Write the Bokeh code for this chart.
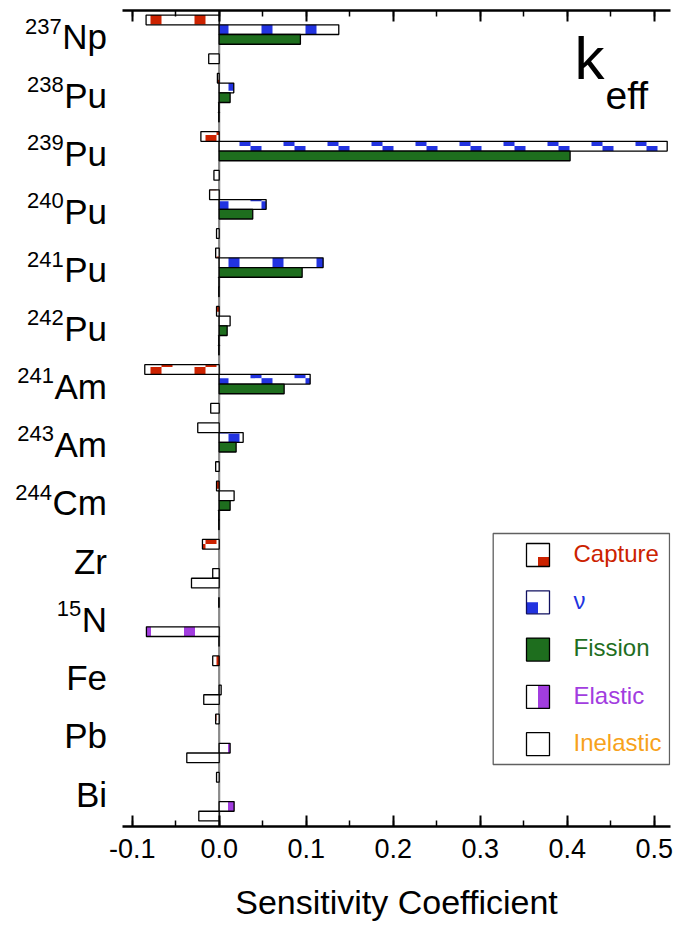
import math
from bokeh.plotting import figure
from bokeh.layouts import row
from bokeh.models import (Range1d, LinearAxis, SingleIntervalTicker,
                          NumeralTickFormatter, CustomJSTickFormatter, Span, Label)
from bokeh.core.properties import value
from bokeh.embed import file_html
from bokeh.resources import INLINE

# ---------------- data ----------------
nuclides = ["237Np", "238Pu", "239Pu", "240Pu", "241Pu", "242Pu", "241Am",
            "243Am", "244Cm", "Zr", "15N", "Fe", "Pb", "Bi"]
mass_numbers = ["237", "238", "239", "240", "241", "242", "241",
                "243", "244", "", "15", "", "", ""]
elements = ["Np", "Pu", "Pu", "Pu", "Pu", "Pu", "Am",
            "Am", "Cm", "Zr", "N", "Fe", "Pb", "Bi"]
reactions = ["Capture", "\u03bd", "Fission", "Elastic", "Inelastic"]

capture = [-0.084, -0.002, -0.021, -0.011, -0.004, -0.003, -0.0855,
           -0.0246, -0.003, -0.0192, -0.0005, -0.0074, -0.004, -0.003]
nu = [0.1375, 0.0168, 0.515, 0.054, 0.1195, 0.0126, 0.1046,
      0.0276, 0.0172, 0.0, 0.0, 0.0, 0.0, 0.0]
fission = [0.0934, 0.0126, 0.4034, 0.0386, 0.0954, 0.0092, 0.0747,
           0.0195, 0.0126, 0.0, 0.0, 0.0, 0.0, 0.0]
elastic = [0.0, -0.0005, 0.0, 0.0, -0.0003, -0.0005, 0.0,
           0.0, -0.0005, -0.0074, -0.0836, 0.0023, 0.0126, 0.0172]
inelastic = [-0.012, -0.0005, -0.006, -0.003, -0.0005, -0.0005, -0.0097,
             -0.004, -0.0005, -0.0318, -0.0003, -0.0177, -0.0372, -0.0234]

x_ticks_interval = 0.1

# ---------------- layout / style ----------------
W, H = 677, 927
LW = 107                                  # width of the label panel (px)
FL, FR, FT, FB = 122, 670, 10, 826        # frame edges in page px
X_START, X_END = -0.1111, 0.5188
Y_TOP, Y_BOT = -0.474, 83.57
XPX = (FR - FL) / (X_END - X_START)
YPX = (FB - FT) / (Y_BOT - Y_TOP)
SLOTS = 6
BASE_FIX = 0.41

FONT = "Liberation Sans"
RED = "#cc2200"
BLUE = "#2233e0"
GREEN = "#1e6e1e"
PURPLE = "#a23ddf"
ORANGE = "#f7a21b"


def px_x(x):
    return FL + (x - X_START) * XPX


def px_y(s):
    return FT + (s - Y_TOP) * YPX


def dx(px):
    return X_START + (px - FL) / XPX


def dy(py):
    return Y_TOP + (py - FT) / YPX


y_range = Range1d(Y_BOT, Y_TOP)

p = figure(width=W - LW, height=H, x_range=Range1d(X_START, X_END),
           y_range=y_range, output_backend="svg",
           toolbar_location=None, y_axis_location=None,
           min_border_left=FL - LW, min_border_right=W - FR,
           min_border_top=FT, min_border_bottom=H - FB)
p.outline_line_color = None
p.xgrid.visible = False
p.ygrid.visible = False

xa = p.xaxis[0]
xa.ticker = SingleIntervalTicker(interval=x_ticks_interval, num_minor_ticks=2)
xa.formatter = NumeralTickFormatter(format="0.0")
xa.axis_label = "Sensitivity Coefficient"
xa.axis_label_text_font = FONT
xa.axis_label_text_font_style = "normal"
xa.axis_label_text_font_size = "34px"
xa.axis_label_text_color = "black"
xa.axis_label_standoff = 22
xa.major_label_text_font = FONT
xa.major_label_text_font_size = "27px"
xa.major_label_text_color = "black"
xa.major_label_standoff = 12
xa.axis_line_width = 2.5
xa.axis_line_color = "black"
xa.major_tick_in = 11
xa.major_tick_out = 0
xa.minor_tick_in = 6
xa.minor_tick_out = 0
xa.major_tick_line_width = 2
xa.minor_tick_line_width = 1.5
xa.major_tick_line_color = "black"
xa.minor_tick_line_color = "black"

top_ax = LinearAxis(ticker=SingleIntervalTicker(interval=x_ticks_interval, num_minor_ticks=2),
                    formatter=CustomJSTickFormatter(code="return ''"),
                    major_label_text_font_size="1px", major_label_standoff=0,
                    axis_line_width=2.5, axis_line_color="black",
                    major_tick_in=11, major_tick_out=0, minor_tick_in=6, minor_tick_out=0,
                    major_tick_line_width=2, minor_tick_line_width=1.5)
p.add_layout(top_ax, "above")

p.add_layout(Span(location=0, dimension="height", line_color="#8a8a8a", line_width=2.2,
                  level="underlay"))

RH, RY0, PER, SQ = 11.05, 13.0, 44.0, 11.0


def pattern_quads(values, j, kind):
    L, R, T, B = [], [], [], []
    for i, v in enumerate(values):
        if v == 0:
            continue
        s = SLOTS * i + j
        bx0, bx1 = sorted((px_x(0.0), px_x(v)))
        by0, by1 = px_y(s), px_y(s + 1)
        bands = []
        if kind == "stripe":
            bands = [(by0, by1, 7.5)]
        else:
            n0 = math.floor((by0 - RY0) / RH)
            n1 = math.floor((by1 - RY0) / RH)
            for n in range(n0, n1 + 1):
                y0 = max(by0, RY0 + RH * n)
                y1 = min(by1, RY0 + RH * (n + 1))
                if y1 - y0 < 0.3:
                    continue
                c = (30 + 11 * n) % 44 if kind == "down" else (18 - 11 * n) % 44
                bands.append((y0, y1, c))
        for (y0, y1, c) in bands:
            k0 = math.floor((bx0 - c - SQ) / PER)
            k1 = math.ceil((bx1 - c) / PER)
            for k in range(k0, k1 + 1):
                sx0 = max(bx0, c + PER * k)
                sx1 = min(bx1, c + PER * k + SQ)
                if sx1 - sx0 < 0.3:
                    continue
                L.append(dx(sx0)); R.append(dx(sx1)); T.append(dy(y0)); B.append(dy(y1))
    return dict(left=L, right=R, top=T, bottom=B)


def bar_data(values, j):
    L, R, T, B = [], [], [], []
    for i, v in enumerate(values):
        if v == 0:
            continue
        s = SLOTS * i + j
        L.append(min(0.0, v)); R.append(max(0.0, v)); T.append(s); B.append(s + 1)
    return dict(left=L, right=R, top=T, bottom=B)


series = [(capture, 0, RED, "up"), (nu, 1, BLUE, "down"), (fission, 2, GREEN, None),
          (elastic, 3, PURPLE, "stripe"), (inelastic, 4, None, None)]

for vals, j, col, kind in series:
    bd = bar_data(vals, j)
    if kind is None and col is not None:
        p.quad(source=bd, left="left", right="right", top="top", bottom="bottom",
               fill_color=col, line_color="black", line_width=1.3)
        continue
    p.quad(source=bd, left="left", right="right", top="top", bottom="bottom",
           fill_color="white", line_color=None)
    if kind is not None:
        pq = pattern_quads(vals, j, kind)
        p.quad(source=pq, left="left", right="right", top="top", bottom="bottom",
               fill_color=col, line_color=None)
    p.quad(source=bd, left="left", right="right", top="top", bottom="bottom",
           fill_alpha=0, line_color="black", line_width=1.3)


def add_label(xpx, ypx_base, text, size, color="black"):
    p.add_layout(Label(x=dx(xpx), y=dy(ypx_base - BASE_FIX * size), text=text,
                       text_font=FONT, text_font_size=f"{size}px",
                       text_baseline="alphabetic", text_color=color))


# ---------------- k_eff ----------------
add_label(574, 82.7, "k", 60)
add_label(605, 110.7, "eff", 39)

# ---------------- legend ----------------
p.quad(left=[dx(492.7)], right=[dx(669)], top=[dy(533)], bottom=[dy(764)],
       fill_color="white", line_color="#606060", line_width=1.3)
leg_colors = [RED, BLUE, GREEN, PURPLE, ORANGE]
IL, IR, IS, STEP, T0 = 526.0, 549.0, 23.0, 47.3, 543.0
for k, (name, col) in enumerate(zip(reactions, leg_colors)):
    t = T0 + STEP * k
    fill = GREEN if k == 2 else "white"
    p.quad(left=[dx(IL)], right=[dx(IR)], top=[dy(t)], bottom=[dy(t + IS)],
           fill_color=fill, line_color=None)
    if k == 0:
        p.quad(left=[dx(IR - 11.5)], right=[dx(IR)], top=[dy(t + 13.5)], bottom=[dy(t + IS)],
               fill_color=RED, line_color=None)
    elif k == 1:
        p.quad(left=[dx(IL)], right=[dx(IL + 11.5)], top=[dy(t + 11.5)], bottom=[dy(t + IS)],
               fill_color=BLUE, line_color=None)
    elif k == 3:
        p.quad(left=[dx(IR - 11.5)], right=[dx(IR)], top=[dy(t)], bottom=[dy(t + IS)],
               fill_color=PURPLE, line_color=None)
    p.quad(left=[dx(IL)], right=[dx(IR)], top=[dy(t)], bottom=[dy(t + IS)],
           fill_alpha=0, line_color="#101060" if k == 1 else "black", line_width=1.3)
    add_label(573, t + 19.7, name, 24, col)

# ---------------- category labels (left panel) ----------------
left = figure(width=LW, height=H, x_range=Range1d(0, LW), y_range=y_range,
              output_backend="svg", toolbar_location=None,
              x_axis_location=None, y_axis_location=None,
              min_border_left=0, min_border_right=0,
              min_border_top=FT, min_border_bottom=H - FB)
left.outline_line_color = None
left.xgrid.visible = False
left.ygrid.visible = False

CW = {"N": .722, "p": .556, "P": .667, "u": .556, "A": .667, "m": .833, "C": .722,
      "Z": .611, "r": .333, "F": .611, "e": .556, "b": .556, "B": .667, "i": .222}
EL_FS, SUP_FS = 35, 22
RIGHT_EDGE = LW - 0.5
el_x, el_y, sup_x, sup_y, sup_t = [], [], [], [], []
for i, (m, el) in enumerate(zip(mass_numbers, elements)):
    top_px = px_y(SLOTS * i)
    el_x.append(RIGHT_EDGE)
    el_y.append(dy(top_px + 36 - BASE_FIX * EL_FS))
    if m:
        w = sum(CW.get(c, 0.556) for c in el) * EL_FS
        sup_x.append(RIGHT_EDGE - w - 0.5)
        sup_y.append(dy(top_px + 20 - BASE_FIX * SUP_FS))
        sup_t.append(m)

left.text(x=el_x, y=el_y, text=elements, text_font=value(FONT),
          text_font_size=value(f"{EL_FS}px"), text_align="right",
          text_baseline="alphabetic", text_color="black")
left.text(x=sup_x, y=sup_y, text=sup_t, text_font=value(FONT),
          text_font_size=value(f"{SUP_FS}px"), text_align="right",
          text_baseline="alphabetic", text_color="black")

layout = row(left, p, spacing=0)
open("out.html", "w").write(file_html(layout, INLINE))
